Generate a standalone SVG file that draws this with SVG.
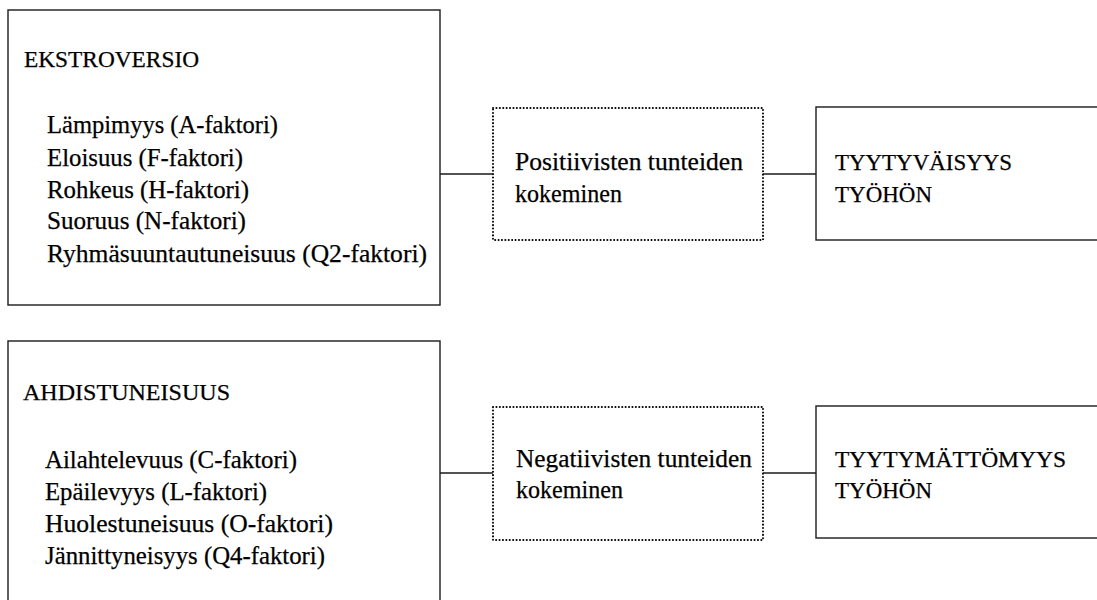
<svg xmlns="http://www.w3.org/2000/svg" width="1097" height="600" viewBox="0 0 1097 600">
<style>
  .box { fill: none; stroke: #1a1a1a; stroke-width: 1.4; }
  .dot { fill: none; stroke: #000; stroke-width: 2; stroke-dasharray: 0.1 3.3; stroke-linecap: round; }
  .conn { fill: none; stroke: #1a1a1a; stroke-width: 1.4; }
  text { font-family: "Liberation Serif", "Times New Roman", serif; fill: #000; stroke: #000; stroke-width: 0.25; }
  .hd { font-size: 23px; }
  .it { font-size: 25px; }
  .mid { font-size: 25.5px; }
  .cap { font-size: 24px; }
</style>
<rect width="1097" height="600" fill="#fff"/>
<g id="ekstroversio">
  <rect class="box" x="8" y="10" width="432" height="295"/>
  <text class="hd" x="24" y="67" textLength="175" lengthAdjust="spacingAndGlyphs">EKSTROVERSIO</text>
  <text class="it" x="47" y="133" textLength="231" lengthAdjust="spacingAndGlyphs">Lämpimyys (A-faktori)</text>
  <text class="it" x="47" y="166" textLength="196" lengthAdjust="spacingAndGlyphs">Eloisuus (F-faktori)</text>
  <text class="it" x="47" y="198" textLength="202" lengthAdjust="spacingAndGlyphs">Rohkeus (H-faktori)</text>
  <text class="it" x="47" y="229" textLength="199" lengthAdjust="spacingAndGlyphs">Suoruus (N-faktori)</text>
  <text class="it" x="47" y="262" textLength="380" lengthAdjust="spacingAndGlyphs">Ryhmäsuuntautuneisuus (Q2-faktori)</text>
</g>
<g id="ahdistuneisuus">
  <rect class="box" x="8" y="341" width="432" height="280"/>
  <text class="hd" x="23" y="400" textLength="207" lengthAdjust="spacingAndGlyphs">AHDISTUNEISUUS</text>
  <text class="it" x="45" y="468" textLength="252" lengthAdjust="spacingAndGlyphs">Ailahtelevuus (C-faktori)</text>
  <text class="it" x="45" y="500" textLength="222" lengthAdjust="spacingAndGlyphs">Epäilevyys (L-faktori)</text>
  <text class="it" x="45" y="532" textLength="288" lengthAdjust="spacingAndGlyphs">Huolestuneisuus (O-faktori)</text>
  <text class="it" x="45" y="564" textLength="280" lengthAdjust="spacingAndGlyphs">Jännittyneisyys (Q4-faktori)</text>
</g>
<g id="positiiviset">
  <rect class="dot" x="493" y="108" width="270" height="132"/>
  <text class="mid" x="515" y="170" textLength="228" lengthAdjust="spacingAndGlyphs">Positiivisten tunteiden</text>
  <text class="mid" x="515" y="202" textLength="107" lengthAdjust="spacingAndGlyphs">kokeminen</text>
</g>
<g id="negatiiviset">
  <rect class="dot" x="493" y="407" width="270" height="133"/>
  <text class="mid" x="516" y="467" textLength="236" lengthAdjust="spacingAndGlyphs">Negatiivisten tunteiden</text>
  <text class="mid" x="516" y="498" textLength="107" lengthAdjust="spacingAndGlyphs">kokeminen</text>
</g>
<g id="tyytyvaisyys">
  <rect class="box" x="816" y="107" width="300" height="133"/>
  <text class="cap" x="835" y="170" textLength="177" lengthAdjust="spacingAndGlyphs">TYYTYVÄISYYS</text>
  <text class="cap" x="835" y="202" textLength="97" lengthAdjust="spacingAndGlyphs">TYÖHÖN</text>
</g>
<g id="tyytymattomyys">
  <rect class="box" x="816" y="406" width="300" height="132"/>
  <text class="cap" x="835" y="467" textLength="231" lengthAdjust="spacingAndGlyphs">TYYTYMÄTTÖMYYS</text>
  <text class="cap" x="835" y="498" textLength="97" lengthAdjust="spacingAndGlyphs">TYÖHÖN</text>
</g>
<g id="connectors">
  <line class="conn" x1="440" y1="174" x2="493" y2="174"/>
  <line class="conn" x1="763" y1="174" x2="816" y2="174"/>
  <line class="conn" x1="440" y1="473" x2="493" y2="473"/>
  <line class="conn" x1="763" y1="473" x2="816" y2="473"/>
</g>
</svg>
